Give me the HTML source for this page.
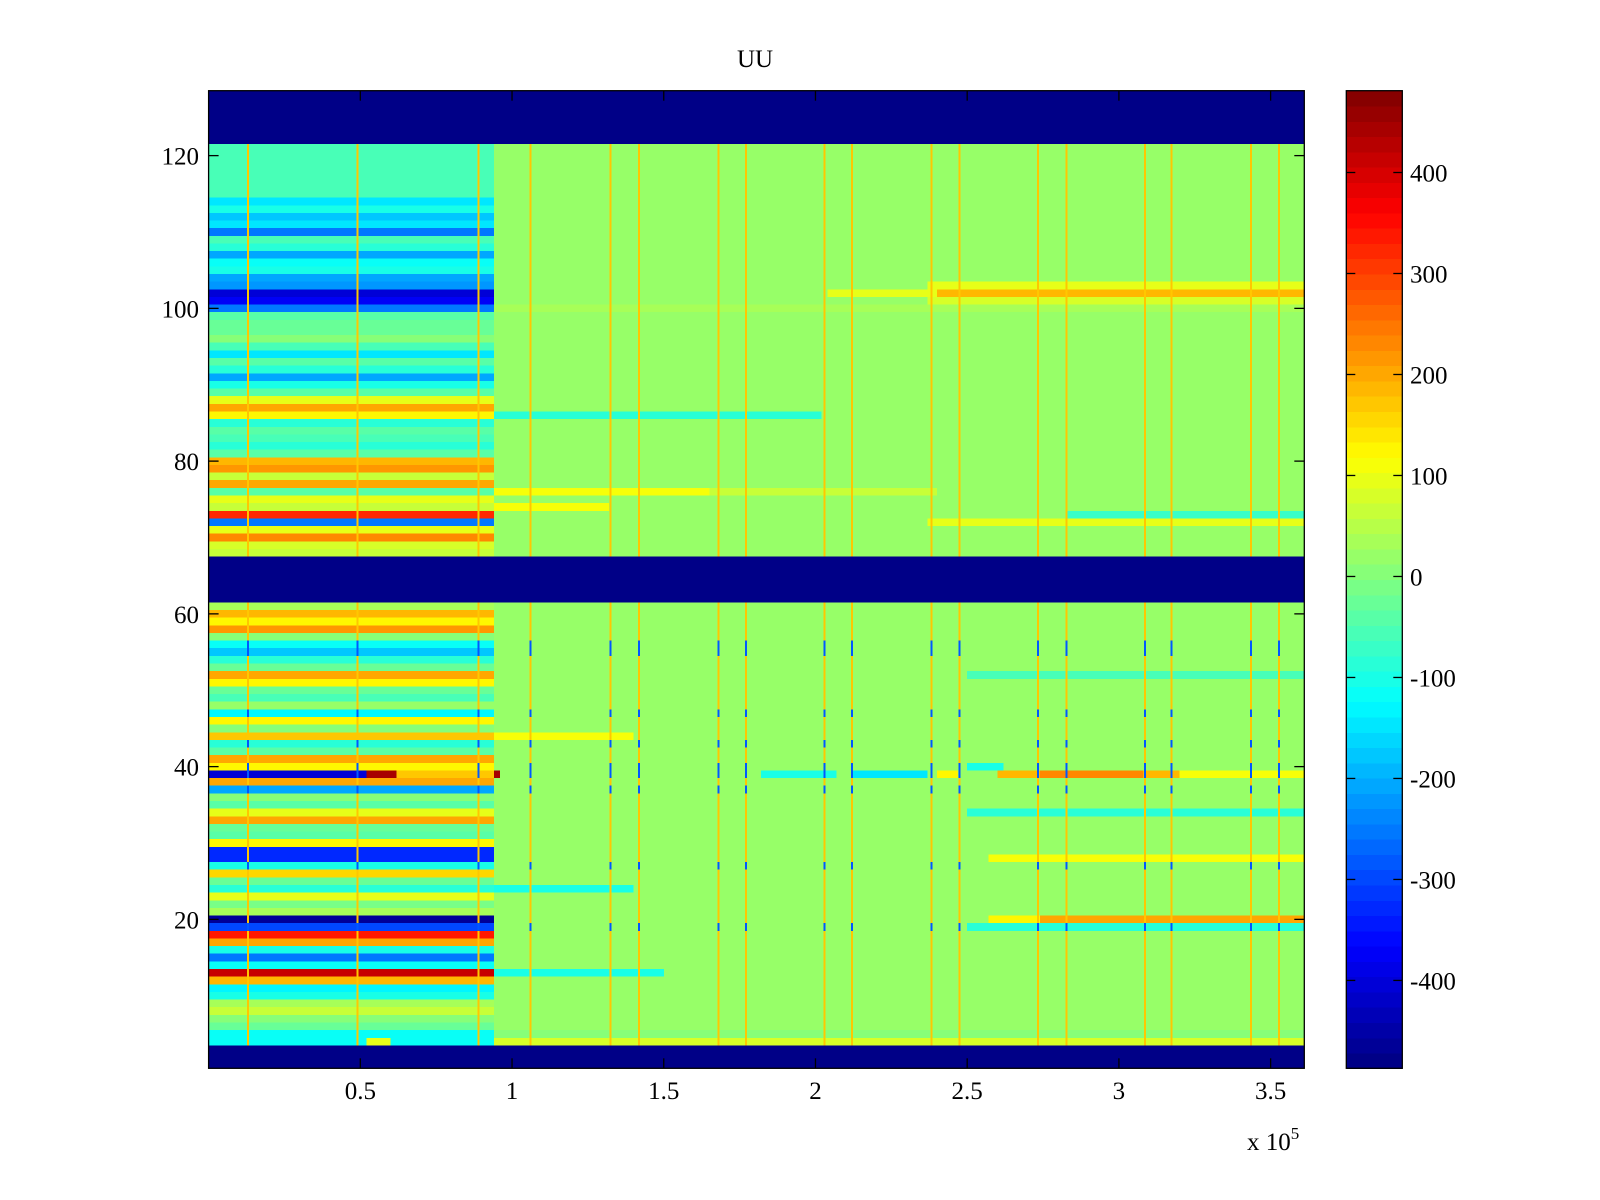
<!DOCTYPE html>
<html>
<head>
<meta charset="utf-8">
<style>
  html,body{margin:0;padding:0;background:#fff;}
  svg{display:block;}
  text{font-family:"Liberation Serif",serif;fill:#000;}
</style>
</head>
<body>
<svg id="chart" width="1600" height="1200" viewBox="0 0 1600 1200" xmlns="http://www.w3.org/2000/svg">
  <defs>
    <clipPath id="plotclip"><rect x="208.6" y="90.7" width="1095.7" height="977.6"/></clipPath>
  </defs>
  <rect x="0" y="0" width="1600" height="1200" fill="#fff"/>
  <g id="cells" shape-rendering="crispEdges" clip-path="url(#plotclip)"></g>
  <g id="cbar" shape-rendering="crispEdges"></g>
  <g id="axes"></g>
  <text x="755" y="67" font-size="25" text-anchor="middle">UU</text>
  <text x="1247" y="1150" font-size="25">x 10<tspan dy="-11" font-size="17">5</tspan></text>
</svg>
<script>
// ---- data ----
const xTicks = [0.5, 1, 1.5, 2, 2.5, 3, 3.5];
const xTickLabels = ["0.5", "1", "1.5", "2", "2.5", "3", "3.5"];
const yTicks = [20, 40, 60, 80, 100, 120];
const yTickLabels = ["20", "40", "60", "80", "100", "120"];
const cTicks = [-400, -300, -200, -100, 0, 100, 200, 300, 400];
const cTickLabels = ["-400", "-300", "-200", "-100", "0", "100", "200", "300", "400"];
// per-row mean value, left block (x < 0.94e5), rows 1..128
const leftVals = [
 -487,-487,-487,-120,-110,-20,0,60,30,-100,
 -130,180,420,-120,-250,-100,200,330,-300,-470,
 30,-10,100,-80,-20,150,-100,-330,-330,120,
 -40,-20,200,100,-40,0,-200,200,-400,120,
 200,-40,-80,170,0,120,-130,20,-60,-20,
 120,200,-20,-80,-180,-120,0,220,120,180,
 40,-487,-487,-487,-487,-487,-487,60,80,230,
 100,-250,320,60,100,-40,200,60,220,180,
 -40,-80,-60,-40,-80,120,200,100,-40,-100,
 -200,-80,-40,-150,-60,0,-30,-20,-40,-250,
 -380,-400,-220,-200,-100,-120,-200,-80,-60,-250,
 -150,-180,-100,-150,-60,-60,-60,-60,-60,-60,
 -60,-487,-487,-487,-487,-487,-487,-487
];
// per-row mean value, right block (x >= 0.94e5)
const rightVals = [
 -487,-487,-487,80,0,20,15,15,15,15,
 15,15,15,15,15,15,15,15,15,15,
 15,15,15,15,15,15,15,15,15,15,
 15,15,15,15,15,15,15,15,15,15,
 15,15,15,15,15,15,15,15,15,15,
 15,15,15,15,15,15,15,15,15,15,
 15,-487,-487,-487,-487,-487,-487,20,20,20,
 20,20,20,20,20,20,20,20,20,20,
 20,20,20,20,20,20,20,20,20,20,
 20,20,20,20,20,20,20,20,20,30,
 20,20,20,20,20,20,20,20,20,20,
 20,20,20,20,20,20,20,20,20,20,
 20,-487,-487,-487,-487,-487,-487,-487
];
// [row, x0 (1e5), x1 (1e5), value]
const segRows = [102,102,103,101,86,76,76,73,72,74,39,39,39,39,39,39,39,39,39,39,20,20,19,24,13,28,34,52,44,40,4];
const segX0 =   [2.04,2.4,2.37,2.37,0.94,0.94,1.65,2.83,2.37,0.94,1.82,2.12,2.4,2.6,2.74,3.08,3.2,0.52,0.62,0.94,2.57,2.74,2.5,0.94,0.94,2.57,2.5,2.5,0.94,2.5,0.52];
const segX1 =   [2.4,3.62,3.62,3.62,2.02,1.65,2.4,3.62,3.62,1.32,2.07,2.37,2.47,2.74,3.08,3.2,3.62,0.62,0.94,0.96,2.74,3.62,3.62,1.4,1.5,3.62,3.62,3.62,1.4,2.62,0.6];
const segVals = [100,180,90,80,-90,110,70,-70,90,110,-100,-150,120,180,230,180,110,440,170,440,130,200,-90,-100,-100,110,-80,-60,110,-100,100];
// vertical stripe positions (1e5) and stripe values per row
const stripeX = [0.13,0.49,0.89,1.061,1.324,1.418,1.680,1.771,2.030,2.121,2.383,2.474,2.733,2.827,3.086,3.173,3.436,3.527];
const stripeBlueRows = [56,55,47,43,40,39,37,27,19];
const stripeHot = 170, stripeCold = -280;

// ---- scales ----
const PX0 = 208.6, PX1 = 1304.3, PY0 = 90.7, PY1 = 1068.3;
const XMIN = 0, XMAX = 3.611, YMIN = 0.5, YMAX = 128.5;
const CMIN = -487, CMAX = 481;
const xs = v => PX0 + (v - XMIN) / (XMAX - XMIN) * (PX1 - PX0);
const ys = v => PY1 - (v - YMIN) / (YMAX - YMIN) * (PY1 - PY0);
function jet(t){
  const c = x => Math.max(0, Math.min(1, x));
  const r = c(1.5 - Math.abs(4*t - 3)), g = c(1.5 - Math.abs(4*t - 2)), b = c(1.5 - Math.abs(4*t - 1));
  return `rgb(${Math.round(r*255)},${Math.round(g*255)},${Math.round(b*255)})`;
}
function colorOf(v){
  let i = Math.floor((v - CMIN) / (CMAX - CMIN) * 64);
  i = Math.max(0, Math.min(63, i));
  return jet((i + 0.5) / 64);
}
const NS = "http://www.w3.org/2000/svg";
function mk(tag, attrs, parent){
  const e = document.createElementNS(NS, tag);
  for (const k in attrs) e.setAttribute(k, attrs[k]);
  parent.appendChild(e);
  return e;
}
const cells = document.getElementById('cells');
const SPLIT = 0.94;
for (let i = 0; i < leftVals.length; i++){
  const row = i + 1;
  const y0 = ys(row + 0.5), y1 = ys(row - 0.5);
  let r = mk('rect', {x: xs(XMIN), y: y0, width: xs(SPLIT) - xs(XMIN), height: y1 - y0, fill: colorOf(leftVals[i])}, cells);
  
  
  r = mk('rect', {x: xs(SPLIT), y: y0, width: xs(XMAX) - xs(SPLIT), height: y1 - y0, fill: colorOf(rightVals[i])}, cells);
  
  
}
for (let k = 0; k < segRows.length; k++){
  const row = segRows[k];
  const y0 = ys(row + 0.5), y1 = ys(row - 0.5);
  const r = mk('rect', {x: xs(segX0[k]), y: y0, width: xs(segX1[k]) - xs(segX0[k]), height: y1 - y0, fill: colorOf(segVals[k])}, cells);
  
  
}
for (let i = 0; i < leftVals.length; i++){
  const row = i + 1;
  if (leftVals[i] === -487) continue;
  const v = stripeBlueRows.includes(row) ? stripeCold : stripeHot;
  const y0 = ys(row + 0.5), y1 = ys(row - 0.5);
  for (const sx of stripeX){
    const r = mk('rect', {x: xs(sx) - 1, y: y0, width: 2, height: y1 - y0, fill: colorOf(v)}, cells);
    
    
  }
}
// ---- axes ----
const axes = document.getElementById('axes');
let fr = mk('rect', {x: PX0, y: PY0, width: PX1 - PX0, height: PY1 - PY0, fill: 'none', stroke: '#000', 'stroke-width': 1.3}, axes);


xTicks.forEach((t, i) => {
  const x = xs(t);
  mk('line', {x1: x, y1: PY1, x2: x, y2: PY1 - 10, stroke: '#000', 'stroke-width': 1.3}, axes);
  mk('line', {x1: x, y1: PY0, x2: x, y2: PY0 + 10, stroke: '#000', 'stroke-width': 1.3}, axes);
  const tx = mk('text', {x: x, y: 1099, 'font-size': 25, 'text-anchor': 'middle'}, axes);
  tx.textContent = xTickLabels[i];
  
  
});
yTicks.forEach((t, i) => {
  const y = ys(t);
  mk('line', {x1: PX0, y1: y, x2: PX0 + 10, y2: y, stroke: '#000', 'stroke-width': 1.3}, axes);
  mk('line', {x1: PX1, y1: y, x2: PX1 - 10, y2: y, stroke: '#000', 'stroke-width': 1.3}, axes);
  const tx = mk('text', {x: 199, y: y + 9, 'font-size': 25, 'text-anchor': 'end'}, axes);
  tx.textContent = yTickLabels[i];
  
  
});
// ---- colorbar ----
const cbar = document.getElementById('cbar');
const CX0 = 1346.3, CX1 = 1402.3;
const cy = v => PY1 - (v - CMIN) / (CMAX - CMIN) * (PY1 - PY0);
for (let i = 0; i < 64; i++){
  const vb = CMIN + i * (CMAX - CMIN) / 64, vt = CMIN + (i + 1) * (CMAX - CMIN) / 64;
  const r = mk('rect', {x: CX0, y: cy(vt), width: CX1 - CX0, height: cy(vb) - cy(vt) + 0.5, fill: jet((i + 0.5) / 64)}, cbar);
  
  
}
fr = mk('rect', {x: CX0, y: PY0, width: CX1 - CX0, height: PY1 - PY0, fill: 'none', stroke: '#000', 'stroke-width': 1.3}, axes);


cTicks.forEach((t, i) => {
  const y = cy(t);
  mk('line', {x1: CX0, y1: y, x2: CX0 + 9, y2: y, stroke: '#000', 'stroke-width': 1.3}, axes);
  mk('line', {x1: CX1, y1: y, x2: CX1 - 9, y2: y, stroke: '#000', 'stroke-width': 1.3}, axes);
  const tx = mk('text', {x: 1410, y: y + 9, 'font-size': 25}, axes);
  tx.textContent = cTickLabels[i];
  
  
});
</script>
</body>
</html>
